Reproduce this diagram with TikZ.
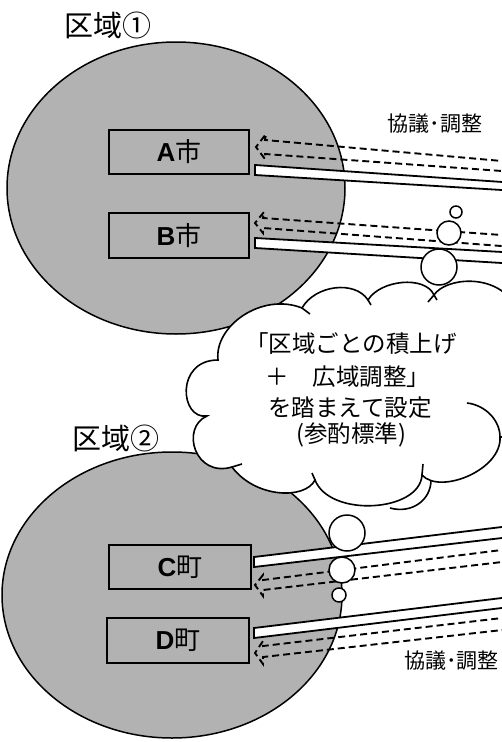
\documentclass[tikz,border=0pt]{standalone}
\usepackage{fontspec}
\newfontfamily\jp{Noto Sans CJK JP}
\newfontfamily\lat{Liberation Sans}
\usetikzlibrary{shapes.geometric}
\begin{document}
\begin{tikzpicture}[x=1pt,y=-1pt,
  region/.style={ellipse, draw=black, fill=black!30, line width=1.5pt, inner sep=0pt},
  citybox/.style={draw=black, fill=black!30, line width=1.6pt, inner sep=0pt,
     font=\fontsize{26}{26}\selectfont},
  bar/.style={draw=black, fill=white, line width=1.8pt, line join=miter},
  dasharrow/.style={draw=black, line width=1.9pt, dash pattern=on 7pt off 4pt, line join=miter},
  bubble/.style={circle, draw=black, fill=white, line width=1.5pt, inner sep=0pt},
  cloudline/.style={draw=black, line width=1.6pt},
  title/.style={font=\jp\fontsize{29}{29}\selectfont},
  note/.style={font=\jp\fontsize{21}{21}\selectfont},
  cloudtext/.style={font=\jp\fontsize{23.5}{23.5}\selectfont, inner sep=0pt}
]
\useasboundingbox (0,0) rectangle (502,742);
\clip (0,0) rectangle (502,742);

% regions
\node[region, minimum width=338pt, minimum height=292pt] (R1) at (176,188) {};
\node[region, minimum width=340pt, minimum height=286pt] (R2) at (172,595) {};

% city boxes
\node[citybox, minimum width=140pt, minimum height=44pt] (A) at (179,152) {{\lat\bfseries A}{\jp 市}};
\node[citybox, minimum width=140pt, minimum height=45pt] (B) at (179,235.5) {{\lat\bfseries B}{\jp 市}};
\node[citybox, minimum width=142pt, minimum height=44pt] (C) at (180,567) {{\lat\bfseries C}{\jp 町}};
\node[citybox, minimum width=142pt, minimum height=45pt] (D) at (178,640.5) {{\lat\bfseries D}{\jp 町}};

% outgoing hollow bars
\path[bar] (255,165) -- (520,183.2) -- (520,191.1) -- (255,175) -- cycle;
\path[bar] (255,238) -- (520,253) -- (520,264.1) -- (255,248) -- cycle;
\path[bar] (254,557) -- (520,524.8) -- (520,535.9) -- (254,567) -- cycle;
\path[bar] (254,628) -- (520,595.8) -- (520,605.8) -- (254,638) -- cycle;

% incoming dashed hollow arrows
\path[dasharrow] (520,162.6) -- (265,140) -- (266,134) -- (256,147) -- (265,159) -- (265,154) -- (520,172.3);
\path[dasharrow] (520,236.3) -- (263,218) -- (264,212) -- (255,223) -- (263,233) -- (263,228) -- (520,247.4);
\path[dasharrow] (520,547.7) -- (263,580) -- (263,575) -- (255,585) -- (263,596) -- (263,590) -- (520,559.9);
\path[dasharrow] (520,615.9) -- (263,646) -- (263,641) -- (255,653) -- (263,664) -- (263,657) -- (520,628);

% cloud
\path[cloudline, fill=white]
  (218,360) .. controls (214,326) and (262,292) .. (302,308)
  .. controls (315,285) and (355,280) .. (368,300)
  .. controls (380,280) and (425,275) .. (434,295)
  .. controls (445,278) and (495,272) .. (515,305)
  -- (520,437) -- (500,437)
  .. controls (502,470) and (440,495) .. (422,475)
  .. controls (420,512) and (330,518) .. (315,480)
  .. controls (305,500) and (255,498) .. (232,467)
  .. controls (195,478) and (180,428) .. (207,416)
  .. controls (180,420) and (175,360) .. (218,360) -- cycle;
% interior strokes of the cloud
\draw[cloudline] (302,308) -- (310,314);
\draw[cloudline] (368,300) -- (371,305);
\draw[cloudline] (434,295) -- (437,300);
\draw[cloudline] (434,295) -- (428,302);
\draw[cloudline] (422,475) -- (423,464);
\draw[cloudline] (315,480) -- (312,473);
\draw[cloudline] (232,467) -- (242,464);
\draw[cloudline] (467,403) .. controls (485,405) and (500,420) .. (500,437);
\draw[cloudline] (431,480) .. controls (431,500) and (412,514) .. (390,508);

% cloud text
\node[cloudtext] (t1) at (351,344) {「区域ごとの積上げ};
\node[cloudtext] (t2) at (348,377) {＋　広域調整」};
\node[cloudtext] (t3) at (350,408) {を踏まえて設定};
\node[cloudtext] (t4) at (351,435) {(参酌標準)};

% thought bubbles
\node[bubble, minimum size=12pt] (b1) at (456,212) {};
\node[bubble, minimum size=24pt] (b2) at (449,233) {};
\node[bubble, minimum size=36pt] (b3) at (439,267) {};
\node[bubble, minimum size=36pt] (c3) at (347,533) {};
\node[bubble, minimum size=26pt] (c2) at (342,570) {};
\node[bubble, minimum size=14pt] (c1) at (339,595) {};

% labels
\node[title] (L1) at (108,25) {区域①};
\node[title] (L2) at (116,438) {区域②};
\node[note] (K1) at (435,124) {協議･調整};
\node[note, anchor=west, inner sep=0pt] (K2) at (404,661) {協議･調整};
\end{tikzpicture}
\end{document}
